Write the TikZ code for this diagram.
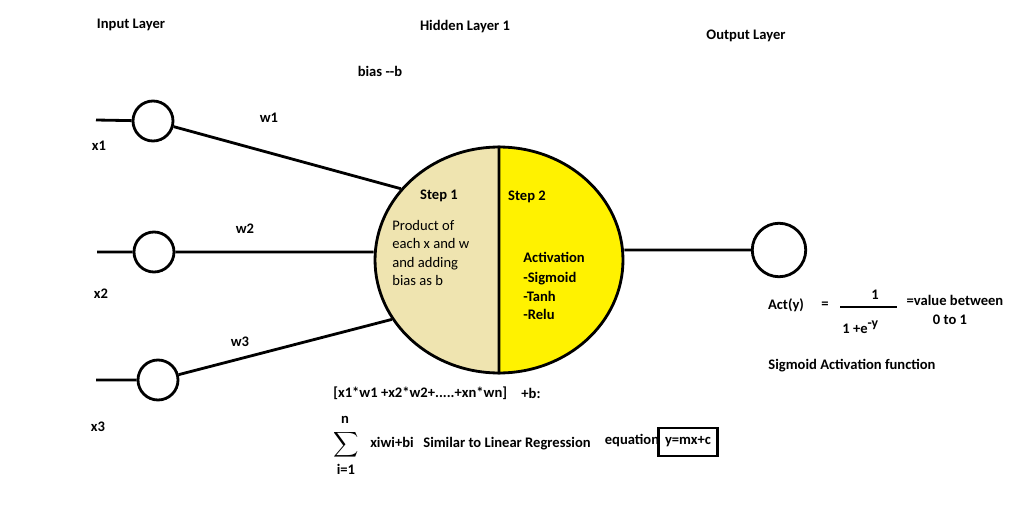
\documentclass[tikz,border=0pt]{standalone}
\usepackage{fontspec}
\setmainfont{Carlito}
\usepackage{tikz}
\usetikzlibrary{positioning,shapes.geometric}
\definecolor{tanfill}{HTML}{EFE4B0}
\definecolor{yellowfill}{HTML}{FFF200}
\tikzset{
  neuron/.style={circle,draw,line width=1.6pt,minimum size=0.8cm,inner sep=0pt},
  lbl/.style={font=\fontsize{8.3}{10}\selectfont\bfseries,inner sep=0pt},
  txt/.style={font=\fontsize{8.3}{10.3}\selectfont,inner sep=0pt},
  wire/.style={line width=1.6pt}
}
\begin{document}
\begin{tikzpicture}[x=0.02cm,y=-0.02cm]
	\useasboundingbox (0,0) rectangle (1013,530);
	%Halves of the hidden neuron
	\fill[tanfill] (499,147) arc[start angle=90,end angle=270,x radius=2.48cm,y radius=2.26cm] -- cycle;
	\fill[yellowfill] (499,147) arc[start angle=90,end angle=-90,x radius=2.48cm,y radius=2.26cm] -- cycle;
	%Nodes
	\node[neuron] (x1) at (153,121) {};
	\node[neuron] (x2) at (154,252) {};
	\node[neuron] (x3) at (158,380) {};
	\node[ellipse,draw,line width=1.6pt,minimum width=4.96cm,minimum height=4.52cm,inner sep=0pt] (H) at (499,260) {};
	\node[neuron,minimum size=1.07cm] (O) at (779,250) {};
	\coordinate (i1) at (96,120);
	\coordinate (i2) at (97,252);
	\coordinate (i3) at (96,380);
	%Wires
	\draw[wire]
		(i1) -- (x1)
		(i2) -- (x2)
		(i3) -- (x3)
		(x1) -- (H.144)
		(x2) -- (x2 -| H.west)
		(x3) -- (H.209)
		(H.north) -- (H.south)
		(O) -- (O -| H.east)
	;
	%Layer titles
	\node[lbl] (inl) at (131,25) {Input Layer};
	\node[lbl] (hidl) at (465,27) {Hidden Layer 1};
	\node[lbl] (outl) at (746,36) {Output Layer};
	\node[lbl] (bias) at (380,71) {bias -{}-b};
	%Inputs and weights
	\node[lbl] (lx1) at (99,146) {x1};
	\node[lbl] (lx2) at (101,294) {x2};
	\node[lbl] (lx3) at (98,427) {x3};
	\node[lbl] (w1) at (269,118) {w1};
	\node[lbl] (w2) at (245,229) {w2};
	\node[lbl] (w3) at (240,342) {w3};
	%Inside the hidden neuron
	\node[lbl] (s1) at (439,196) {Step 1};
	\node[lbl] (s2) at (527,197) {Step 2};
	\node[txt,align=left,anchor=west] (prod) at (392,253) {Product of\\each x and w\\and adding\\bias as b};
	\node[lbl,anchor=west] (act) at (523,257) {Activation};
	\node[lbl,align=left,anchor=north west,font=\fontsize{8.3}{10.6}\selectfont\bfseries] (funcs) at (523,272) {-Sigmoid\\-Tanh\\-Relu};
	%Sum below
	\node[lbl,anchor=west] (sumx) at (333,393) {[x1*w1 +x2*w2+.....+xn*wn]};
	\node[lbl] (plusb) at (531,393) {+b:};
	\node[inner sep=0pt] (sig) at (346,445) {$\displaystyle\sum$};
	\node[lbl] (n) at (345,420) {n};
	\node[lbl] (i1l) at (346,469) {i=1};
	\node[lbl] (xiwi) at (392,442) {xiwi+bi};
	\node[txt,font=\fontsize{8.3}{10}\selectfont,anchor=west] (simil) at (423,444) {\textbf{Similar to Linear Regression}};
	\node[lbl] (equ) at (632,441) {equation};
	\node[lbl,draw,line width=1.6pt,minimum width=1.18cm,minimum height=0.56cm] (eq) at (688,442) {y=mx+c};
	%Sigmoid formula
	\node[lbl] (acty) at (786,305) {Act(y)};
	\node[lbl] (eqs) at (825,305) {=};
	\coordinate (fl) at (840,307);
	\coordinate (fr) at (897,307);
	\draw[wire] (fl) -- (fr);
	\node[lbl] (num) at (875,295) {1};
	\node[lbl,anchor=west] (den) at (842,327) {1 +e\raisebox{3.5pt}{\fontsize{7.8}{8}\selectfont -y}};
	\node[lbl] (val) at (955,300) {=value between};
	\node[lbl] (rng) at (950,320) {0 to 1};
	\node[lbl] (sigf) at (852,366) {Sigmoid Activation function};
\end{tikzpicture}
\end{document}
